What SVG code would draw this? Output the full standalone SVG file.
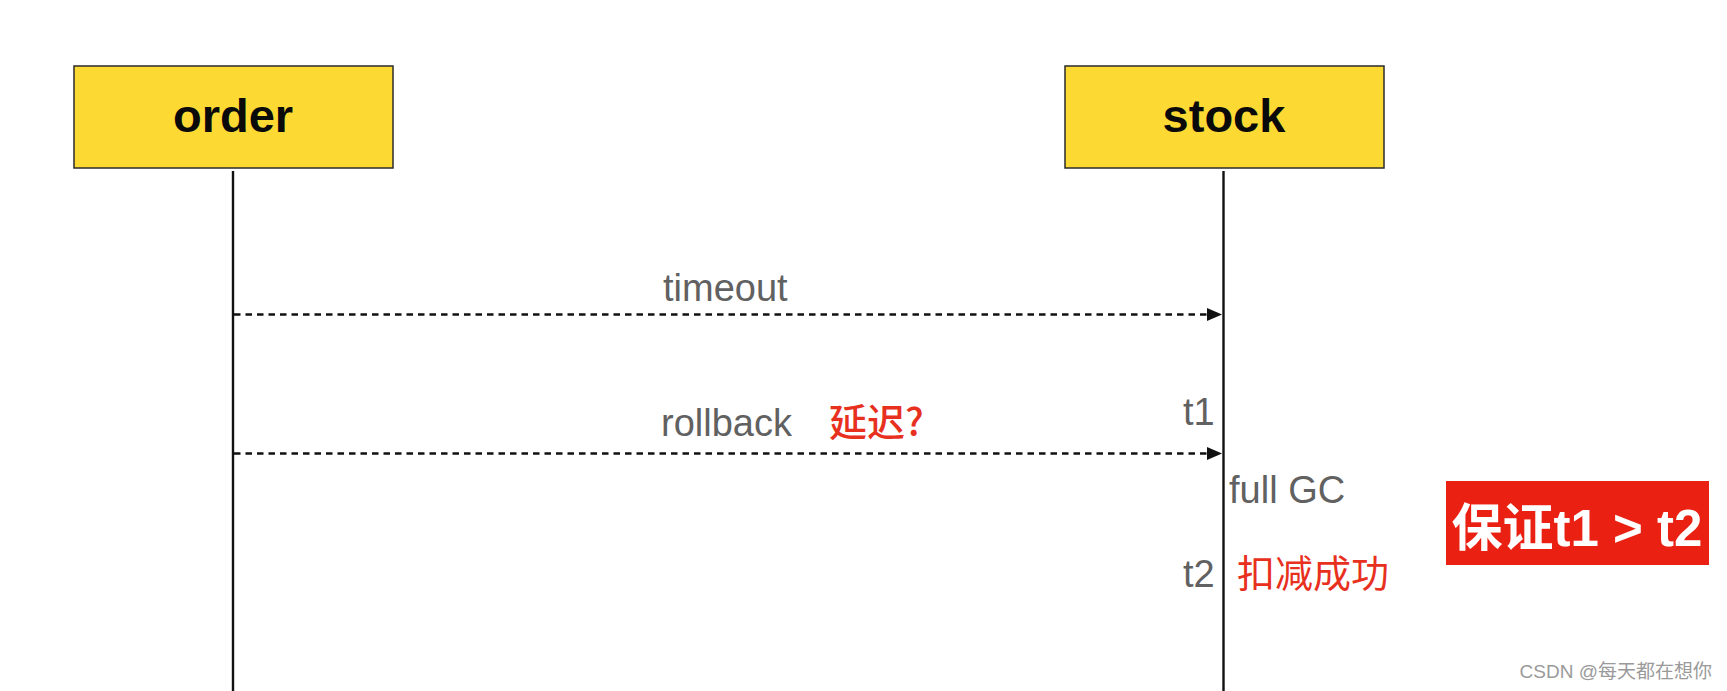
<svg xmlns="http://www.w3.org/2000/svg" width="1727" height="691" viewBox="0 0 1727 691">
<defs>
<style>
.box{fill:#FDDA33;stroke:#2b2b2b;stroke-width:1.5}
.title{font-family:"Liberation Sans",Arial,sans-serif;font-weight:bold;font-size:47px;fill:#0a0a0a;text-anchor:middle}
.life{stroke:#111;stroke-width:2.4;fill:none}
.msg{stroke:#111;stroke-width:2.4;stroke-dasharray:6.5 5;fill:none}
.lbl{font-family:"Liberation Sans",Arial,sans-serif;font-size:38px;fill:#616161}
.red{font-family:"Noto Sans CJK SC","Liberation Sans",sans-serif;font-size:38px;fill:#E8301E}
</style>
<marker id="arr" markerWidth="15" markerHeight="13" refX="15" refY="6.5" orient="auto" markerUnits="userSpaceOnUse">
<path d="M0,0 L15,6.5 L0,13 Z" fill="#111"/>
</marker>
</defs>
<rect width="1727" height="691" fill="#fff"/>
<g id="order">
<rect class="box" x="74" y="66" width="319" height="102"/>
<text class="title" x="233" y="132">order</text>
</g>
<g id="stock">
<rect class="box" x="1065" y="66" width="319" height="102"/>
<text class="title" x="1224" y="132">stock</text>
</g>
<g id="connectors">
<line class="life" x1="233" y1="171" x2="233" y2="691"/>
<line class="life" x1="1223.5" y1="171" x2="1223.5" y2="691"/>
<line class="msg" x1="234" y1="314.5" x2="1222" y2="314.5" marker-end="url(#arr)"/>
<line class="msg" x1="234" y1="453.5" x2="1222" y2="453.5" marker-end="url(#arr)"/>
</g>
<g id="labels">
<text class="lbl" x="663" y="301">timeout</text>
<text class="lbl" x="661" y="436">rollback</text>
<text class="red" x="829" y="436" font-weight="500">延迟?</text>
<text class="lbl" x="1183" y="425" font-size="36">t1</text>
<text class="lbl" x="1229" y="503">full GC</text>
<text class="lbl" x="1183" y="587" font-size="36">t2</text>
<text class="red" x="1237" y="587">扣减成功</text>
</g>
<g id="note">
<rect x="1446" y="481" width="263" height="84" fill="#EA2112"/>
<text x="1577" y="546" text-anchor="middle" font-family="'Liberation Sans','Noto Sans CJK SC',sans-serif" font-weight="bold" font-size="51" fill="#fff">保证t1 &gt; t2</text>
</g>
<text x="1712" y="678" text-anchor="end" font-family="'Liberation Sans','Noto Sans CJK SC',sans-serif" font-size="19" fill="#9a9a9a">CSDN @每天都在想你</text>
</svg>
